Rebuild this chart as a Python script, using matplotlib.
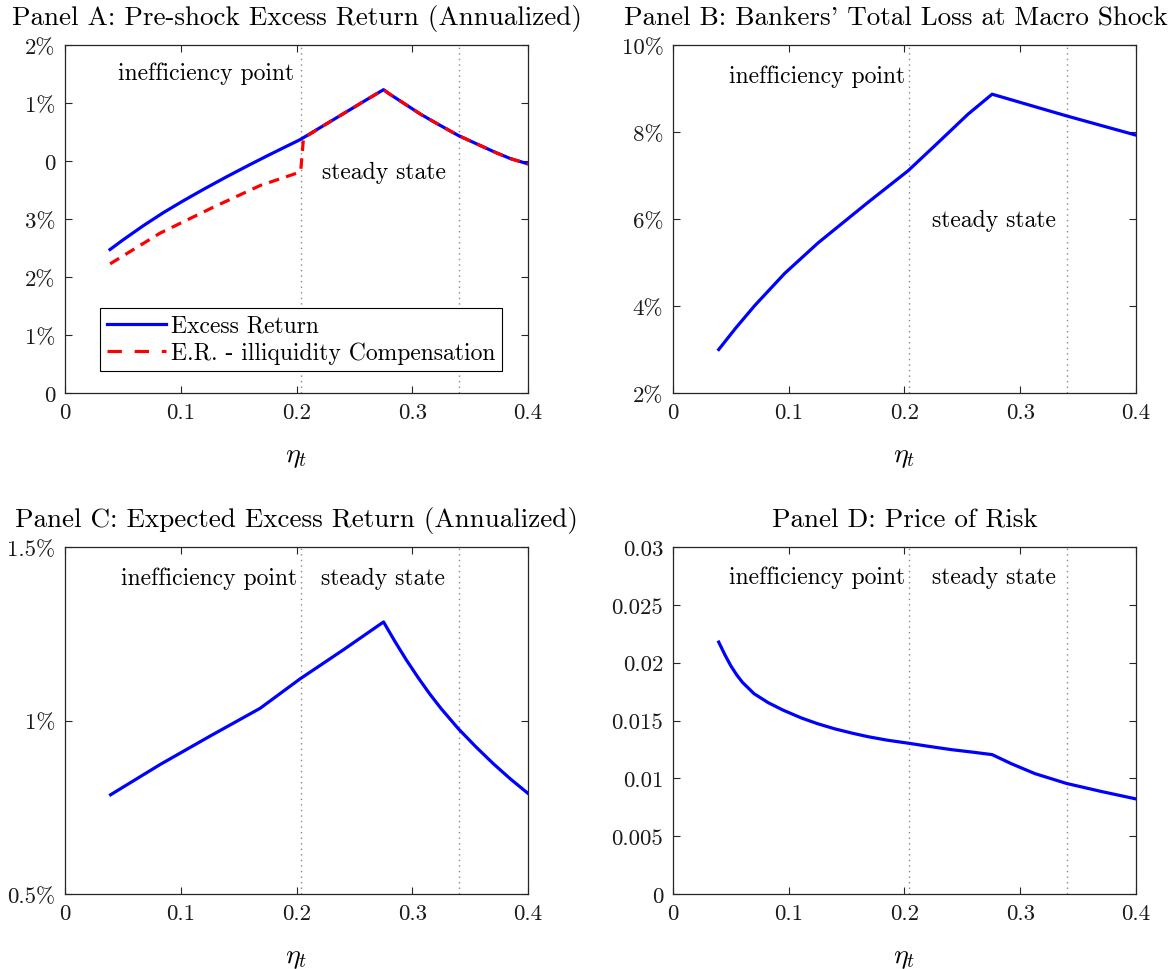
import matplotlib
matplotlib.use("Agg")
import matplotlib.pyplot as plt

plt.rcParams['font.family'] = 'serif'
plt.rcParams['font.serif'] = ['cmr10']
plt.rcParams['mathtext.fontset'] = 'cm'
plt.rcParams['axes.formatter.use_mathtext'] = True

# ---------------- data ----------------
ineff_point = 0.2035
steady_state = 0.340

# Panel A (axis units, tick labels below)
a_x = [0.0389, 0.05, 0.0677, 0.085, 0.1023, 0.12, 0.1398, 0.16, 0.1743, 0.19, 0.2032,
       0.22, 0.24, 0.26, 0.2752, 0.28, 0.29, 0.3069, 0.32, 0.34, 0.3715, 0.385, 0.4]
a_excess = [2.474, 2.638, 2.885, 3.11, 3.315, 3.515, 3.73, 3.94, 4.085, 4.24, 4.369,
            4.57, 4.81, 5.05, 5.23, 5.16, 5.03, 4.811, 4.66, 4.438, 4.151, 4.04, 3.95]
a_x_illiq = [0.039, 0.0821, 0.1282, 0.1686, 0.2017, 0.2037, 0.206,
             0.22, 0.24, 0.26, 0.2752, 0.28, 0.29, 0.3069, 0.32, 0.34, 0.3715, 0.385, 0.4]
a_illiq = [2.227, 2.756, 3.204, 3.577, 3.80, 3.84, 4.39,
           4.57, 4.81, 5.05, 5.23, 5.16, 5.03, 4.811, 4.66, 4.438, 4.151, 4.04, 3.95]
a_ytick_labels = ["0", "1%", "2%", "3%", "0", "1%", "2%"]

# Panel B (percent)
b_x = [0.0395, 0.0541, 0.0706, 0.0965, 0.1253, 0.1685, 0.2031, 0.2261, 0.2549, 0.2757, 0.3399, 0.4]
b_loss = [3.0, 3.49, 4.01, 4.75, 5.45, 6.383, 7.109, 7.683, 8.41, 8.869, 8.371, 7.928]
b_ytick_labels = ["2%", "4%", "6%", "8%", "10%"]

# Panel C (percent)
c_x = [0.0394, 0.0821, 0.1253, 0.1685, 0.2031, 0.2406, 0.2752, 0.285, 0.295, 0.305,
       0.315, 0.325, 0.3399, 0.355, 0.3702, 0.385, 0.4]
c_expected = [0.786, 0.873, 0.955, 1.035, 1.12, 1.204, 1.284, 1.228, 1.174, 1.124,
              1.077, 1.034, 0.976, 0.924, 0.875, 0.831, 0.790]
c_ytick_labels = ["0.5%", "1%", "1.5%"]

# Panel D
d_x = [0.0395, 0.045, 0.05, 0.055, 0.06, 0.07, 0.0821, 0.095, 0.1109, 0.125, 0.1397, 0.155,
       0.1685, 0.185, 0.2031, 0.22, 0.2406, 0.26, 0.2757, 0.2924, 0.3126, 0.3399, 0.3702, 0.4]
d_price = [0.02178, 0.02065, 0.01972, 0.01895, 0.01830, 0.01732, 0.01655, 0.01590, 0.01522,
           0.01472, 0.01428, 0.01390, 0.01360, 0.01330, 0.01304, 0.01278, 0.01248, 0.01225,
           0.01205, 0.01126, 0.01041, 0.00956, 0.00886, 0.00822]
d_ytick_labels = ["0", "0.005", "0.01", "0.015", "0.02", "0.025", "0.03"]

x_ticks = [0, 0.1, 0.2, 0.3, 0.4]
x_tick_labels = ["0", "0.1", "0.2", "0.3", "0.4"]

# ---------------- figure ----------------
W, H = 1175, 970
fig = plt.figure(figsize=(W / 100, H / 100), dpi=100)

def px_axes(l, r, t, b):
    return fig.add_axes([l / W, 1 - b / H, (r - l) / W, (b - t) / H])

axA = px_axes(65, 528, 46, 394)
axB = px_axes(673, 1136, 46, 394)
axC = px_axes(65, 528, 548, 895)
axD = px_axes(673, 1136, 548, 895)

BLUE = '#0000FF'
RED = '#FF0000'
LW = 2.3
FS_TICK = 16.5
FS_TEXT = 17
FS_TITLE = 19.5
EDGE = '#262626'
TITLE_PAD = 15

def style(ax, yticks, ylabels, ylim):
    ax.set_xlim(0, 0.4)
    ax.set_ylim(*ylim)
    ax.set_xticks(x_ticks)
    ax.set_xticklabels(x_tick_labels)
    ax.set_yticks(yticks)
    ax.set_yticklabels(ylabels)
    ax.tick_params(direction='in', length=5, width=0.8, top=True, right=True,
                   labelsize=FS_TICK, colors=EDGE, labelcolor='#1a1a1a', pad=7)
    for s in ax.spines.values():
        s.set_color(EDGE)
        s.set_linewidth(0.9)
    ax.set_xlabel(r'$\eta_t$', fontsize=20, labelpad=15)
    for xv in (ineff_point, steady_state):
        ax.axvline(xv, color='#888888', linestyle=(0, (1, 3)), linewidth=1.0, zorder=1)

# Panel A
axA.plot(a_x, a_excess, color=BLUE, lw=LW, label='Excess Return', zorder=3)
axA.plot(a_x_illiq, a_illiq, color=RED, lw=LW, linestyle=(0, (3.3, 2.3)),
         label='E.R. - illiquidity Compensation', zorder=4)
style(axA, list(range(7)), a_ytick_labels, (0, 6))
axA.set_title('Panel A: Pre-shock Excess Return (Annualized)', fontsize=FS_TITLE, pad=TITLE_PAD)
axA.text(0.198, 5.53, 'inefficiency point', fontsize=FS_TEXT, ha='right', va='center')
axA.text(0.222, 3.81, 'steady state', fontsize=FS_TEXT, ha='left', va='center')
leg = axA.legend(loc='lower left', bbox_to_anchor=(0.0756, 0.063), fontsize=FS_TEXT,
                 frameon=True, fancybox=False, edgecolor='black', framealpha=1,
                 handlelength=2.5, handletextpad=0.2, borderpad=0.3, labelspacing=0.2,
                 borderaxespad=0)
leg.get_frame().set_linewidth(0.8)
leg.get_lines()[1].set_linestyle((0, (4.5, 4.0)))

# Panel B
axB.plot(b_x, b_loss, color=BLUE, lw=LW, zorder=3)
style(axB, [2, 4, 6, 8, 10], b_ytick_labels, (2, 10))
tB = axB.set_title("Panel B: Bankers' Total Loss at Macro Shock", fontsize=FS_TITLE, pad=TITLE_PAD)
tB.set_x((896 - 673) / 463)
axB.text(0.2005, 9.30, 'inefficiency point', fontsize=FS_TEXT, ha='right', va='center')
axB.text(0.2238, 5.98, 'steady state', fontsize=FS_TEXT, ha='left', va='center')

# Panel C
axC.plot(c_x, c_expected, color=BLUE, lw=LW, zorder=3)
style(axC, [0.5, 1.0, 1.5], c_ytick_labels, (0.5, 1.5))
axC.set_title('Panel C: Expected Excess Return (Annualized)', fontsize=FS_TITLE, pad=TITLE_PAD)
axC.text(0.2005, 1.411, 'inefficiency point', fontsize=FS_TEXT, ha='right', va='center')
axC.text(0.2213, 1.411, 'steady state', fontsize=FS_TEXT, ha='left', va='center')

# Panel D
axD.plot(d_x, d_price, color=BLUE, lw=LW, zorder=3)
style(axD, [0, 0.005, 0.01, 0.015, 0.02, 0.025, 0.03], d_ytick_labels, (0, 0.03))
axD.set_title('Panel D: Price of Risk', fontsize=FS_TITLE, pad=TITLE_PAD)
axD.text(0.2005, 0.02743, 'inefficiency point', fontsize=FS_TEXT, ha='right', va='center')
axD.text(0.2238, 0.02743, 'steady state', fontsize=FS_TEXT, ha='left', va='center')

fig.savefig('out.png', dpi=100)
